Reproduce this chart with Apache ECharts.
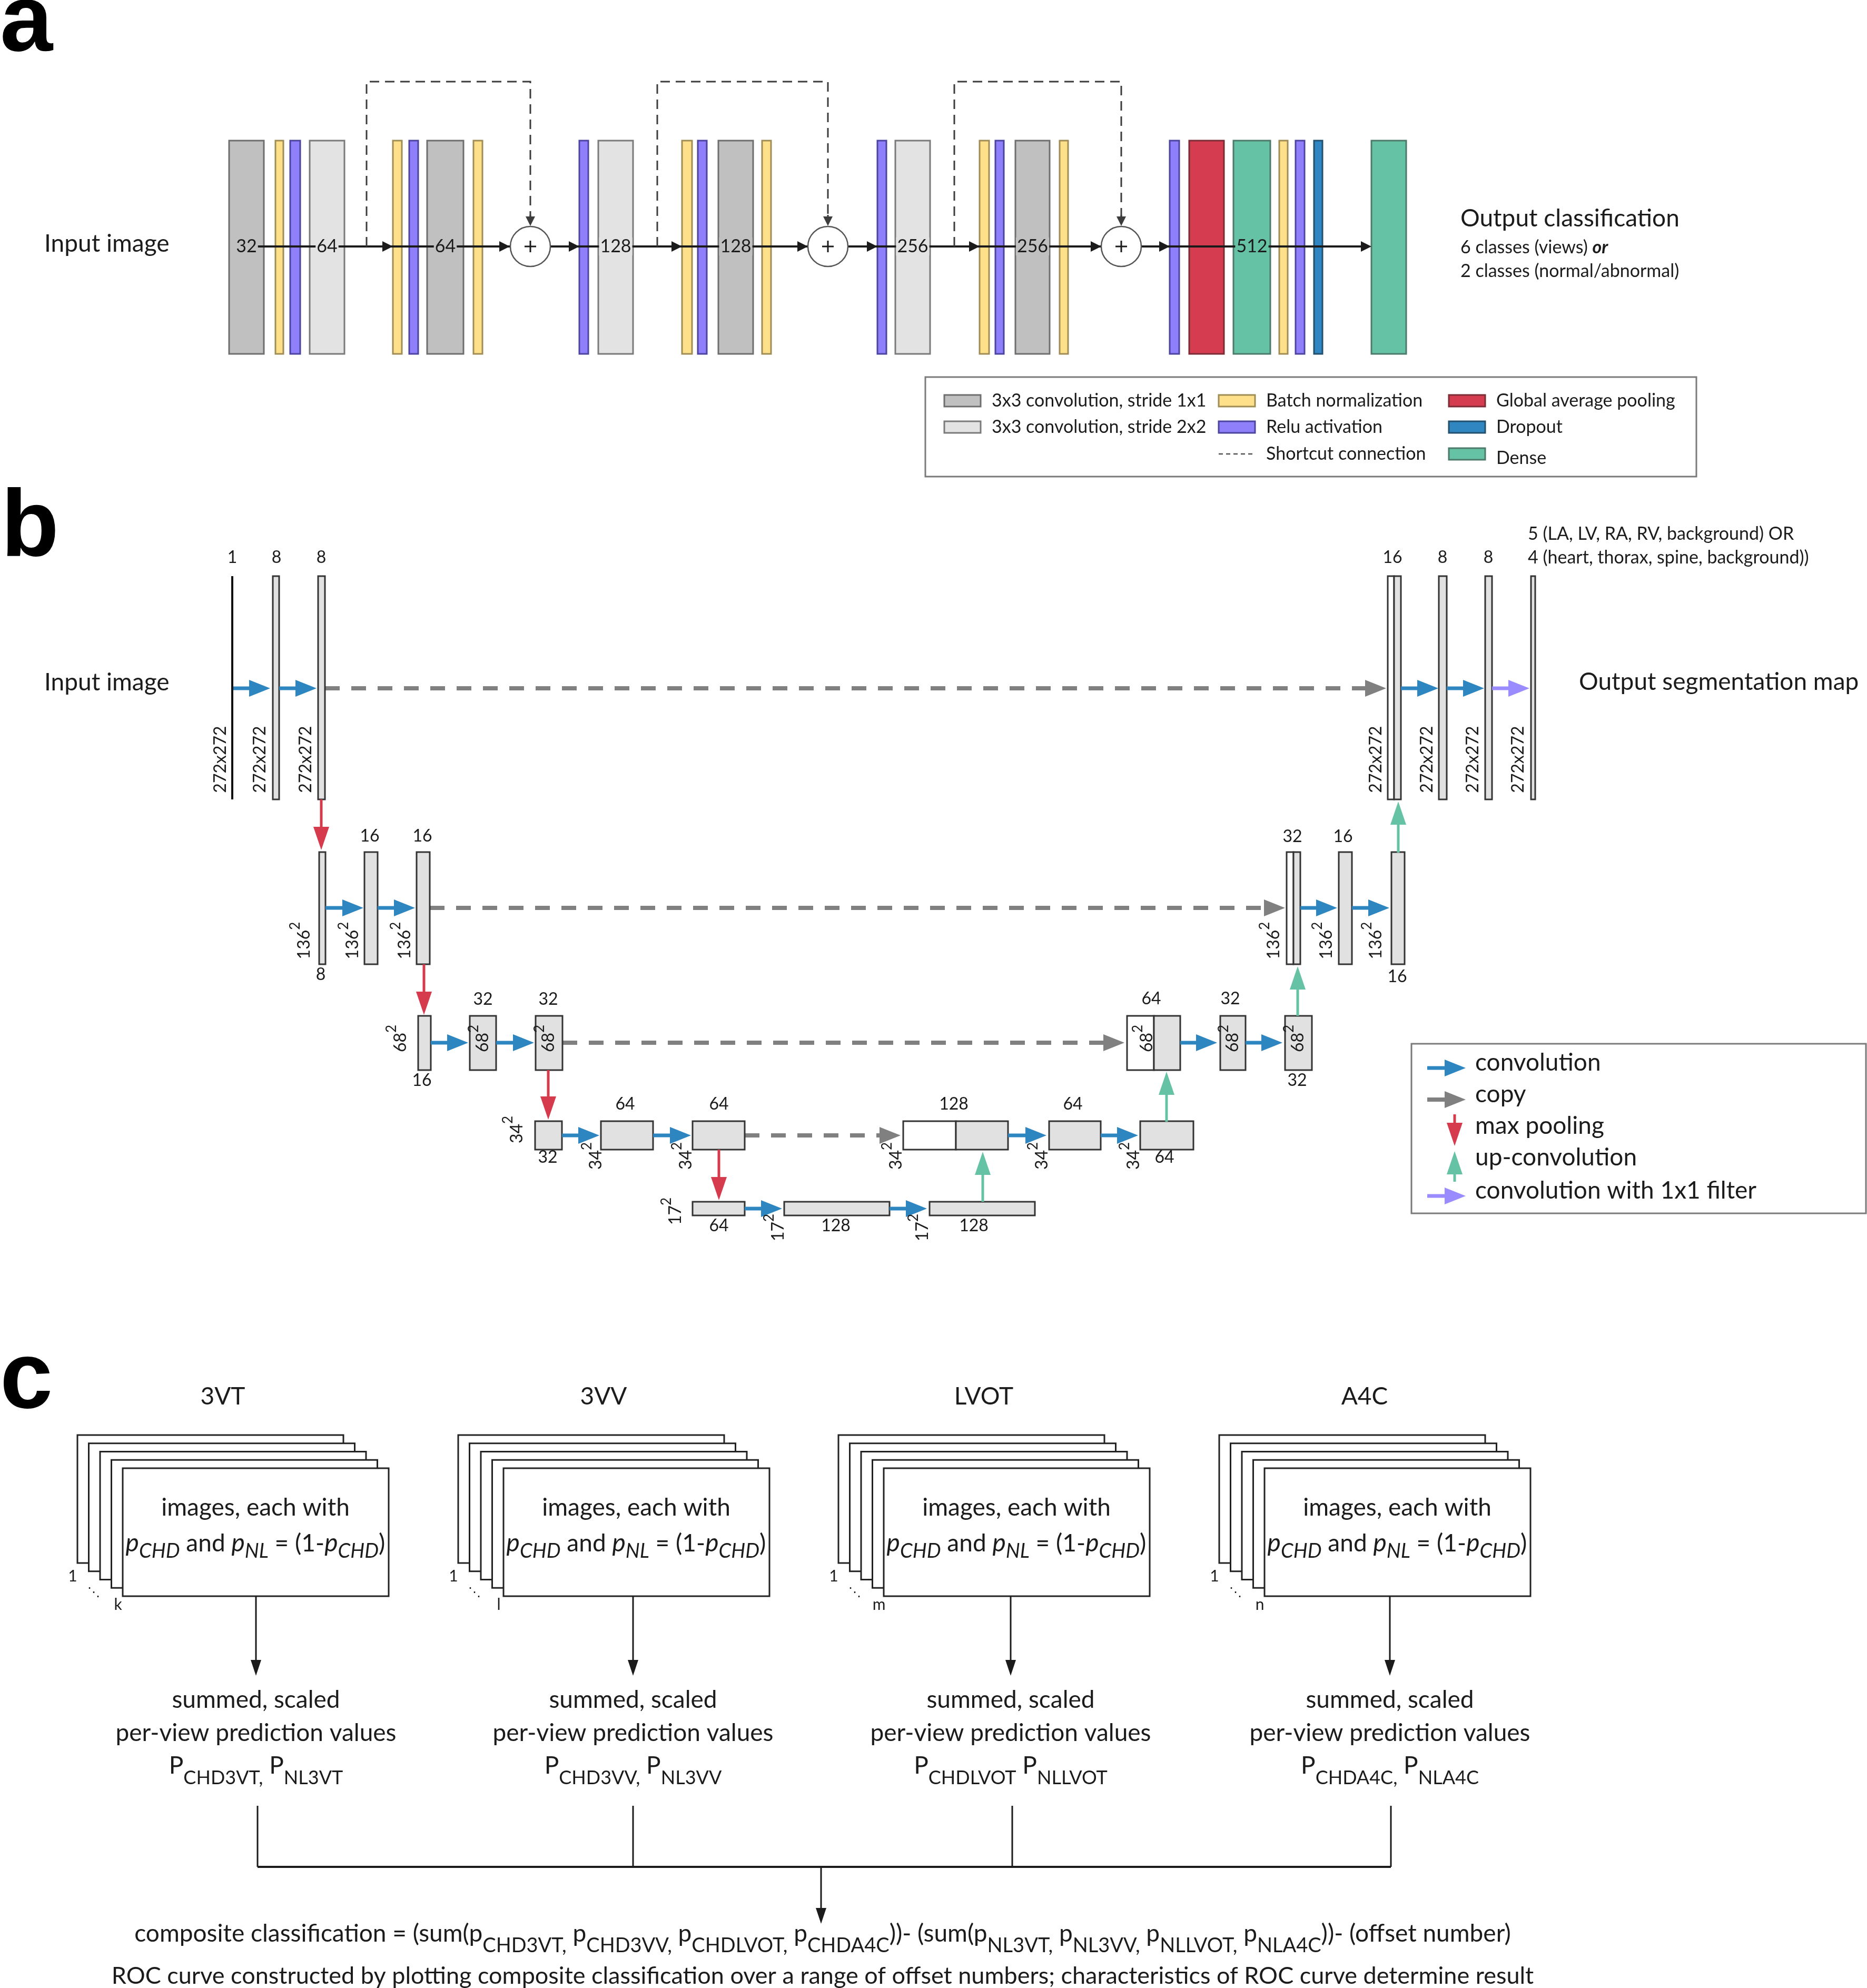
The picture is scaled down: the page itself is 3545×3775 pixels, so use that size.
<!DOCTYPE html>
<html>
<head>
<meta charset="utf-8">
<script src="https://cdn.jsdelivr.net/npm/echarts@6.0.0/dist/echarts.min.js"></script>
<style>
html,body{margin:0;padding:0;background:#ffffff;}
#chart{width:3545px;height:3775px;}
</style>
</head>
<body>
<div id="chart"></div>
<script>
/* ===================== DATA ===================== */
// ---- panel a : classification network (x extents of each layer, in diagram units) ----
const aLayerX = [[435,501],[523,538],[551,570],[588,654],[746,763],[777,794],[811,880],[899,916],
  [1100,1117],[1136,1202],[1295,1314],[1325,1342],[1364,1430],[1447,1464],
  [1666,1683],[1700,1766],[1860,1878],[1890,1906],[1928,1993],[2012,2028],
  [2221,2239],[2258,2324],[2342,2412],[2429,2445],[2460,2477],[2495,2511],[2604,2670]];
const aLayerType = ['conv1','bn','relu','conv2','bn','relu','conv1','bn',
  'relu','conv2','bn','relu','conv1','bn',
  'relu','conv2','bn','relu','conv1','bn',
  'relu','gap','dense','bn','relu','drop','dense'];
const aLayerFilters = ['32','','','64','','','64','',
  '','128','','','128','',
  '','256','','','256','',
  '','','512','','','',''];
const aLayerSpan = [267, 672];
const aFlowY = 468;
const aFlowX = [468, 2600];
const aArrowTips = [746, 968, 1100, 1295, 1534, 1666, 1860, 2091, 2221, 2604];
const aAddX = [1007, 1572, 2129];
const aShortcutX = [696, 1248, 1812];
const aShortcutTop = 155;
const aCaptions = [
  [84, 463, 'Input image', 'label'],
  [2773, 415, 'Output classification', 'label'],
  [2773, 470, '6 classes (views) {bi|or}', 'small'],
  [2773, 515, '2 classes (normal/abnormal)', 'small']
];
const aLegendKind = ['conv1','conv2','bn','relu','shortcut','gap','drop','dense'];
const aLegendText = ['3x3 convolution, stride 1x1','3x3 convolution, stride 2x2','Batch normalization',
  'Relu activation','Shortcut connection','Global average pooling','Dropout','Dense'];
const aLegendCol = [0,0,1,1,1,2,2,2];
const aLegendRow = [0,1,0,1,2,0,1,2];
const aLegendColX = [1793, 2314, 2751];
const aLegendRowY = [761, 811, 862];
const aLegendBox = [1757, 716, 3221, 905];

// ---- panel b : U-Net ----
const bLevelSpan = [[1094,1518],[1618,1831],[1929,2032],[2129,2183],[2282,2308]];
const bLevelFlowY = [1307, 1724, 1980, 2156, 2295];
// [level, x0, x1, kind]  kind: k = input image line, g = feature map, w = copied map
const bMaps = [
  [0,439,443,'k'],[0,518,530,'g'],[0,604,617,'g'],[0,2635,2647,'w'],[0,2647,2660,'g'],[0,2732,2747,'g'],[0,2820,2833,'g'],[0,2907,2915,'g'],
  [1,606,618,'g'],[1,692,717,'g'],[1,791,816,'g'],[1,2443,2456,'w'],[1,2456,2469,'g'],[1,2542,2567,'g'],[1,2642,2667,'g'],
  [2,794,818,'g'],[2,892,942,'g'],[2,1017,1068,'g'],[2,2140,2191,'w'],[2,2191,2241,'g'],[2,2317,2365,'g'],[2,2440,2491,'g'],
  [3,1016,1067,'g'],[3,1141,1240,'g'],[3,1315,1414,'g'],[3,1715,1815,'w'],[3,1815,1914,'g'],[3,1992,2090,'g'],[3,2165,2266,'g'],
  [4,1315,1414,'g'],[4,1489,1689,'g'],[4,1765,1965,'g']
];
const bConv = [[0,443,513],[0,530,601],[0,2660,2731],[0,2747,2818],
  [1,618,690],[1,717,788],[1,2469,2539],[1,2567,2638],
  [2,818,889],[2,942,1014],[2,2241,2311],[2,2365,2435],
  [3,1067,1138],[3,1240,1312],[3,1914,1987],[3,2090,2161],
  [4,1414,1485],[4,1689,1760]];
const bConv1x1 = [[0,2833,2904]];
const bCopy = [[0,617,2632],[1,816,2440],[2,1068,2135],[3,1414,1710]];
const bPool = [[610,1518,1614],[805,1831,1927],[1041,2032,2126],[1365,2183,2279]];
const bUp = [[1866,2282,2187],[2215,2130,2035],[2464,1929,1835],[2655,1619,1522]];
const bChannels = [
  [441,1059,'1'],[525,1059,'8'],[610,1059,'8'],[2644,1059,'16'],[2739,1059,'8'],[2826,1059,'8'],
  [702,1588,'16'],[802,1588,'16'],[609,1851,'8'],[2454,1589,'32'],[2550,1589,'16'],[2653,1855,'16'],
  [917,1898,'32'],[1041,1898,'32'],[801,2052,'16'],[2186,1897,'64'],[2336,1897,'32'],[2463,2052,'32'],
  [1187,2097,'64'],[1365,2097,'64'],[1811,2097,'128'],[2037,2097,'64'],[1040,2198,'32'],[2211,2198,'64'],
  [1365,2328,'64'],[1587,2328,'128'],[1849,2328,'128']
];
const bSizes = [
  [419,1442,'272x272',''],[494,1442,'272x272',''],[581,1442,'272x272',''],
  [2613,1442,'272x272',''],[2710,1442,'272x272',''],[2797,1442,'272x272',''],[2883,1442,'272x272',''],
  [578,1786,'136','2'],[670,1786,'136','2'],[769,1786,'136','2'],[2419,1786,'136','2'],[2519,1786,'136','2'],[2613,1786,'136','2'],
  [761,1972,'68','2'],[917,1972,'68','2'],[1042,1972,'68','2'],[2178,1972,'68','2'],[2341,1972,'68','2'],[2465,1972,'68','2'],
  [982,2145,'34','2'],[1132,2195,'34','2'],[1303,2195,'34','2'],[1702,2195,'34','2'],[1979,2195,'34','2'],[2153,2195,'34','2'],
  [1283,2300,'17','2'],[1478,2331,'17','2'],[1752,2331,'17','2']
];
const bCaptions = [
  [84, 1296, 'Input image', 'label'],
  [2998, 1295, 'Output segmentation map', 'label'],
  [2901, 1014, '5 (LA, LV, RA, RV, background) OR', 'small'],
  [2901, 1059, '4 (heart, thorax, spine, background))', 'small']
];
const bLegendKind = ['conv','copy','pool','up','c1x1'];
const bLegendText = ['convolution','copy','max pooling','up-convolution','convolution with 1x1 filter'];
const bLegendRowY = [2018, 2078, 2138, 2198, 2261];
const bLegendBox = [2680, 1982, 3543, 2304];

// ---- panel c : composite classification ----
const cViews = ['3VT','3VV','LVOT','A4C'];
const cStackLeft = [233, 956, 1678, 2401];
const cStackIndex = ['k','l','m','n'];
const cArrowX = [486, 1202, 1919, 2639];
const cSubCHD = ['CHD3VT,','CHD3VV,','CHDLVOT','CHDA4C,'];
const cSubNL = ['NL3VT','NL3VV','NLLVOT','NLA4C'];
const cJoinX = [489, 1202, 1922, 2641];
const cMergeX = 1559;
const cFormula = 'composite classification = (sum(p{f|CHD3VT,} p{f|CHD3VV,} p{f|CHDLVOT,} p{f|CHDA4C}))- (sum(p{f|NL3VT,} p{f|NL3VV,} p{f|NLLVOT,} p{f|NLA4C}))- (offset number)';
const cRoc = 'ROC curve constructed by plotting composite classification over a range of offset numbers; characteristics of ROC curve determine result';
const panelLetters = [['a', 0, 46], ['b', 2, 1006], ['c', 0, 2623]];

/* ===================== STYLE / HELPERS ===================== */
const FONT = 'Lato';
const INK = '#1b1b1b';
const LAYER_FILL = {conv1:'#c0c0c0', conv2:'#e3e3e3', bn:'#ffe08a', relu:'#8f7ffb', gap:'#d63c4f', dense:'#65c2a4', drop:'#2f86c1'};
const LAYER_EDGE = {conv1:'#6e6e6e', conv2:'#7a7a7a', bn:'#a08c55', relu:'#4d44a0', gap:'#7c2c36', dense:'#4c7a6b', drop:'#24506f'};
const ARROW = {
  conv: {color:'#2e86c1', width:7, headLen:40, headW:32},
  copy: {color:'#808080', width:8, headLen:40, headW:32, dash:[28,22]},
  pool: {color:'#d63b4d', width:5, headLen:44, headW:30},
  up:   {color:'#66c2a5', width:5, headLen:44, headW:30},
  c1x1: {color:'#9a8bff', width:7, headLen:40, headW:32}
};
const ROLE = {
  letter: {size:180, weight:'bold', family:'Liberation Sans', align:'left', color:'#000'},
  label: {size:46, align:'left'},
  small: {size:34, align:'left'},
  num: {size:34},
  chan: {size:32},
  rot: {size:32},
  idx: {size:30}
};
const RICH = {
  s:   {fontFamily:FONT, fontSize:36, fill:INK, padding:[46,0,0,0]},
  f:   {fontFamily:FONT, fontSize:38, fill:INK, padding:[46,0,0,0]},
  is:  {fontFamily:FONT, fontSize:38, fontStyle:'italic', fill:INK, padding:[30,0,0,0]},
  ip:  {fontFamily:FONT, fontSize:48, fontStyle:'italic', fill:INK},
  sup: {fontFamily:FONT, fontSize:26, fill:INK, padding:[0,0,34,0]},
  bi:  {fontFamily:FONT, fontSize:34, fontStyle:'italic', fontWeight:'bold', fill:INK}
};

function P(api, x, y) { return api.coord([x, y]); }
function rectEl(api, x0, y0, x1, y1, style) {
  const a = P(api, x0, y0), b = P(api, x1, y1);
  return {type:'rect', shape:{x:Math.min(a[0],b[0]), y:Math.min(a[1],b[1]),
    width:Math.abs(b[0]-a[0]), height:Math.abs(b[1]-a[1])}, style:style};
}
function polyEl(api, pts, style) {
  return {type:'polyline', shape:{points:pts.map(function(p){return P(api,p[0],p[1]);})},
    style:Object.assign({fill:null}, style)};
}
function arrowEl(api, x0, y0, x1, y1, o) {
  const a = P(api, x0, y0), b = P(api, x1, y1);
  const dx = b[0]-a[0], dy = b[1]-a[1];
  const L = Math.sqrt(dx*dx+dy*dy) || 1;
  const ux = dx/L, uy = dy/L, px = -uy, py = ux;
  const hl = o.headLen, hw = o.headW/2;
  const bx = b[0]-ux*hl, by = b[1]-uy*hl;
  const kids = [];
  if (L > hl) kids.push({type:'line', shape:{x1:a[0], y1:a[1], x2:bx+ux*1.5, y2:by+uy*1.5},
    style:{stroke:o.color, lineWidth:o.width, lineDash:o.dash||null, fill:null}});
  kids.push({type:'polygon', shape:{points:[[b[0],b[1]],[bx+px*hw,by+py*hw],[bx-px*hw,by-py*hw]]},
    style:{fill:o.color, stroke:null}});
  return {type:'group', children:kids};
}
function textEl(api, x, y, text, roleName, extra) {
  const r = Object.assign({}, ROLE[roleName] || ROLE.label, extra || {});
  const p = P(api, x, y);
  const al = r.align || 'center';
  const st = {
    text:text, fill:r.color || INK,
    fontFamily:r.family || FONT, fontSize:r.size, fontWeight:r.weight || 'normal', fontStyle:r.style || 'normal',
    align:al, verticalAlign:'middle', textAlign:al, textVerticalAlign:'middle', rich:RICH
  };
  if (r.bg) { st.backgroundColor = r.bg; st.padding = [0, 2]; }
  return {type:'text', x:p[0], y:p[1], rotation:r.rot || 0, style:st};
}
let zc = 1;
function layer(arr, draw) {
  return {
    type:'custom', coordinateSystem:'cartesian2d', clip:false, silent:true, z:zc++,
    data:arr.map(function(){ return [0, 0]; }),
    renderItem:function(params, api){ return draw(arr[params.dataIndex], api, params.dataIndex); }
  };
}

/* ===================== SERIES ===================== */
const series = [];
// ----- panel a -----
series.push(layer(aLayerX, function(d, api, i){
  const t = aLayerType[i];
  return rectEl(api, d[0], aLayerSpan[0], d[1], aLayerSpan[1], {fill:LAYER_FILL[t], stroke:LAYER_EDGE[t], lineWidth:3});
}));
series.push(layer([aFlowX], function(d, api){
  return polyEl(api, [[d[0], aFlowY], [d[1], aFlowY]], {stroke:INK, lineWidth:4});
}));
series.push(layer(aArrowTips, function(x, api){
  return arrowEl(api, x-20, aFlowY, x, aFlowY, {color:INK, width:4, headLen:20, headW:20});
}));
series.push(layer(aShortcutX, function(x0, api, i){
  const xa = aAddX[i];
  return {type:'group', children:[
    polyEl(api, [[x0, aFlowY], [x0, aShortcutTop], [xa, aShortcutTop], [xa, aFlowY-56]],
      {stroke:'#3c3c3c', lineWidth:3, lineDash:[18,11]}),
    arrowEl(api, xa, aFlowY-60, xa, aFlowY-39, {color:'#3c3c3c', width:3, headLen:18, headW:18})
  ]};
}));
series.push(layer(aAddX, function(x, api){
  const c = P(api, x, aFlowY);
  const r = api.size([38, 0])[0];
  return {type:'group', children:[
    {type:'circle', shape:{cx:c[0], cy:c[1], r:r}, style:{fill:'#ffffff', stroke:'#555555', lineWidth:2.5}},
    polyEl(api, [[x-11, aFlowY], [x+11, aFlowY]], {stroke:INK, lineWidth:3}),
    polyEl(api, [[x, aFlowY-11], [x, aFlowY+11]], {stroke:INK, lineWidth:3})
  ]};
}));
series.push(layer(aLayerFilters, function(lbl, api, i){
  if (!lbl) return null;
  const d = aLayerX[i];
  return textEl(api, (d[0]+d[1])/2, aFlowY, lbl, 'num', {bg:LAYER_FILL[aLayerType[i]]});
}));
series.push(layer(aCaptions, function(d, api){ return textEl(api, d[0], d[1], d[2], d[3]); }));
series.push(layer([aLegendBox], function(d, api){
  return rectEl(api, d[0], d[1], d[2], d[3], {fill:'#ffffff', stroke:'#7a7a7a', lineWidth:3});
}));
series.push(layer(aLegendKind, function(k, api, i){
  const x = aLegendColX[aLegendCol[i]], y = aLegendRowY[aLegendRow[i]];
  const kids = [];
  if (k === 'shortcut') {
    kids.push(polyEl(api, [[x, y], [x+64, y]], {stroke:'#555555', lineWidth:2.5, lineDash:[8,6]}));
  } else {
    kids.push(rectEl(api, x, y-11, x+69, y+11, {fill:LAYER_FILL[k], stroke:LAYER_EDGE[k], lineWidth:3}));
  }
  kids.push(textEl(api, x+90, k === 'dense' ? y+8 : y, aLegendText[i], 'small'));
  return {type:'group', children:kids};
}));

// ----- panel b -----
series.push(layer(bCopy, function(d, api){
  const y = bLevelFlowY[d[0]];
  return arrowEl(api, d[1], y, d[2], y, ARROW.copy);
}));
series.push(layer(bMaps, function(d, api){
  const s = bLevelSpan[d[0]];
  if (d[3] === 'k') return rectEl(api, d[1], s[0], d[2], s[1], {fill:'#111111', stroke:null});
  return rectEl(api, d[1], s[0], d[2], s[1], {fill:d[3] === 'w' ? '#ffffff' : '#e1e1e1', stroke:'#333333', lineWidth:3});
}));
series.push(layer(bConv, function(d, api){
  const y = bLevelFlowY[d[0]];
  return arrowEl(api, d[1], y, d[2], y, ARROW.conv);
}));
series.push(layer(bConv1x1, function(d, api){
  const y = bLevelFlowY[d[0]];
  return arrowEl(api, d[1], y, d[2], y, ARROW.c1x1);
}));
series.push(layer(bPool, function(d, api){ return arrowEl(api, d[0], d[1], d[0], d[2], ARROW.pool); }));
series.push(layer(bUp, function(d, api){ return arrowEl(api, d[0], d[1], d[0], d[2], ARROW.up); }));
series.push(layer(bChannels, function(d, api){ return textEl(api, d[0], d[1], d[2], 'chan'); }));
series.push(layer(bSizes, function(d, api){
  const t = d[3] ? d[2] + '{sup|' + d[3] + '}' : d[2];
  return textEl(api, d[0], d[1], t, 'rot', {rot:Math.PI/2});
}));
series.push(layer(bCaptions, function(d, api){ return textEl(api, d[0], d[1], d[2], d[3]); }));
series.push(layer([bLegendBox], function(d, api){
  return rectEl(api, d[0], d[1], d[2], d[3], {fill:'#ffffff', stroke:'#7a7a7a', lineWidth:3});
}));
series.push(layer(bLegendKind, function(k, api, i){
  const y = bLegendRowY[i];
  let arr;
  if (k === 'pool') arr = arrowEl(api, 2762, y-22, 2762, y+38, ARROW.pool);
  else if (k === 'up') arr = arrowEl(api, 2762, y+46, 2762, y-12, ARROW.up);
  else arr = arrowEl(api, 2710, y+10, 2783, y+10, Object.assign({}, ARROW[k], {dash:null}));
  return {type:'group', children:[arr, textEl(api, 2801, y, bLegendText[i], 'label')]};
}));

// ----- panel c -----
series.push(layer(cStackLeft, function(L, api){
  const kids = [];
  for (let j = 0; j < 5; j++) {
    const x0 = L - 86 + j*21.5, y0 = 2788 - 63 + j*15.75;
    kids.push(rectEl(api, x0, y0, x0+505, y0+243, {fill:'#ffffff', stroke:'#222222', lineWidth:3}));
  }
  return {type:'group', children:kids};
}));
series.push(layer(cStackLeft, function(L, api, i){
  return {type:'group', children:[
    textEl(api, L+190, 2652, cViews[i], 'label', {align:'center'}),
    textEl(api, L+252, 2863, 'images, each with', 'label', {align:'center'}),
    textEl(api, L+252, 2931, '{ip|p}{is|CHD} and {ip|p}{is|NL} = (1-{ip|p}{is|CHD})', 'label', {align:'center'}),
    textEl(api, L-95, 2993, '1', 'idx'),
    textEl(api, L-55, 3025, '\u22F1', 'idx', {family:'DejaVu Sans', size:24}),
    textEl(api, L-9, 3047, cStackIndex[i], 'idx')
  ]};
}));
series.push(layer(cArrowX, function(x, api, i){
  return {type:'group', children:[
    arrowEl(api, x, 3031, x, 3182, {color:INK, width:3, headLen:30, headW:20}),
    textEl(api, x, 3228, 'summed, scaled', 'label', {align:'center'}),
    textEl(api, x, 3291, 'per-view prediction values', 'label', {align:'center'}),
    textEl(api, x, 3353, 'P{s|' + cSubCHD[i] + '} P{s|' + cSubNL[i] + '}', 'label', {align:'center'})
  ]};
}));
series.push(layer(cJoinX, function(x, api){
  return polyEl(api, [[x, 3429], [x, 3545]], {stroke:INK, lineWidth:3});
}));
series.push(layer([[cJoinX[0], cJoinX[cJoinX.length-1]]], function(d, api){
  return polyEl(api, [[d[0], 3545], [d[1], 3545]], {stroke:INK, lineWidth:4});
}));
series.push(layer([cMergeX], function(x, api){
  return arrowEl(api, x, 3545, x, 3653, {color:INK, width:3, headLen:30, headW:20});
}));
series.push(layer([cFormula, cRoc], function(t, api, i){
  return textEl(api, 1562, i === 0 ? 3672 : 3752, t, 'label', {align:'center', size: i === 0 ? 46 : 45});
}));
series.push(layer(panelLetters, function(d, api){ return textEl(api, d[1], d[2], d[0], 'letter'); }));

/* ===================== CHART ===================== */
const chart = echarts.init(document.getElementById('chart'), null, {renderer:'canvas', width:3545, height:3775});
chart.setOption({
  animation:false,
  backgroundColor:'#ffffff',
  grid:{left:0, right:0, top:0, bottom:0, containLabel:false},
  xAxis:{type:'value', min:0, max:3545, show:false},
  yAxis:{type:'value', min:0, max:3775, inverse:true, show:false},
  series:series
});
</script>
</body>
</html>
